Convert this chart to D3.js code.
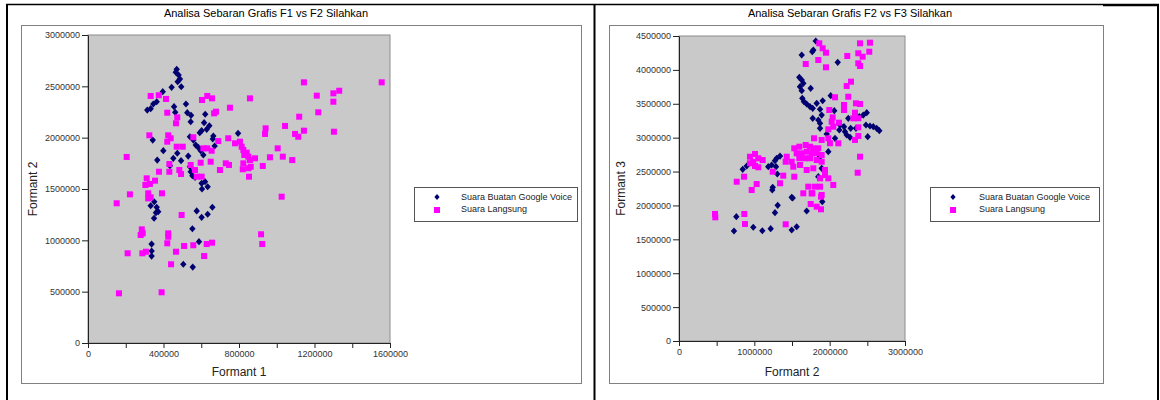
<!DOCTYPE html>
<html>
<head>
<meta charset="utf-8">
<script src="https://cdn.jsdelivr.net/npm/d3@7"></script>
<style>
  body { margin: 0; background: #fff; }
  text { font-family: "Liberation Sans", Arial, sans-serif; }
</style>
</head>
<body>
<div id="chart"></div>
<script>
// legend / series names
const seriesNames = ["Suara Buatan Google Voice", "Suara Langsung"];

// F1 vs F2 : Google voice
const googleF1F2 = [
  [470000,2666000],[465000,2637000],[480000,2610000],[487000,2571000],[475000,2545000],
  [494000,2496000],[443000,2490000],[396000,2448000],[364000,2350000],[346000,2328000],
  [332000,2282000],[314000,2269000],[456000,2302000],[462000,2247000],[519000,2328000],
  [526000,2243000],[546000,2218000],[544000,2155000],[621000,2228000],[615000,2146000],
  [643000,2116000],[629000,2081000],[602000,2068000],[592000,2048000],[343000,1977000],
  [540000,2009000],[558000,1977000],[571000,1928000],[584000,1906000],[597000,1873000],
  [611000,1831000],[661000,1987000],[671000,1919000],[664000,2016000],[795000,2042000],
  [399000,1873000],[473000,1848000],[452000,1799000],[367000,1782000],[493000,1776000],
  [531000,1821000],[434000,1727000],[540000,1717000],[544000,1668000],[553000,1630000],
  [567000,1614000],[602000,1555000],[620000,1571000],[634000,1522000],[604000,1500000],
  [351000,1376000],[332000,1337000],[364000,1322000],[360000,1269000],[350000,1215000],
  [372000,1279000],[576000,1286000],[602000,1224000],[634000,1254000],[659000,1322000],
  [553000,1113000],[588000,987000],[337000,964000],[337000,896000],[337000,847000],
  [505000,767000],[555000,740000]
];

// F1 vs F2 : direct voice
const langsungF1F2 = [
  [205000,1812000],[222000,1448000],[332000,2406000],[375000,2413000],[413000,2377000],
  [420000,2243000],[473000,2198000],[466000,2140000],[325000,2023000],[425000,2023000],
  [420000,1961000],[438000,1994000],[470000,1912000],[502000,1912000],[558000,2004000],
  [604000,2367000],[632000,2406000],[657000,2383000],[678000,2253000],[668000,2237000],
  [752000,2292000],[858000,2383000],[611000,1896000],[632000,1896000],[655000,1873000],
  [650000,1766000],[597000,1756000],[544000,1734000],[567000,1685000],[576000,1620000],
  [602000,1620000],[484000,1685000],[493000,1646000],[431000,1743000],[431000,1668000],
  [376000,1668000],[311000,1604000],[304000,1539000],[328000,1549000],[355000,1581000],
  [392000,1458000],[319000,1458000],[690000,1967000],[743000,1994000],[747000,1734000],
  [730000,1750000],[699000,1685000],[779000,1945000],[805000,1961000],[814000,1912000],
  [823000,1880000],[841000,1854000],[828000,1831000],[849000,1815000],[858000,1782000],
  [823000,1750000],[849000,1702000],[820000,1692000],[885000,1799000],[862000,1717000],
  [853000,1620000],[926000,1724000],[941000,2091000],[938000,2036000],[964000,1809000],
  [1005000,1896000],[1032000,1815000],[1082000,1782000],[1044000,2114000],[1097000,2036000],
  [1114000,2009000],[1144000,2068000],[1119000,2204000],[1144000,2539000],[1212000,2409000],
  [1220000,2247000],[1300000,2432000],[1300000,2350000],[1331000,2457000],[1303000,2058000],
  [1556000,2539000],[1026000,1425000],[152000,1361000],[319000,1409000],[332000,1419000],
  [496000,1247000],[285000,1107000],[279000,1052000],[290000,1068000],[210000,874000],
  [288000,874000],[307000,889000],[425000,1068000],[425000,1035000],[420000,971000],
  [466000,889000],[509000,945000],[558000,952000],[629000,964000],[657000,977000],
  [615000,847000],[440000,767000],[164000,484000],[390000,494000],[917000,1059000],
  [923000,964000]
];

// F2 vs F3 : Google voice
const googleF2F3 = [
  [1815000,4426000],[1783000,4293000],[1769000,4268000],[1629000,4220000],[2107000,4112000],
  [1597000,3891000],[1629000,3851000],[1650000,3802000],[1606000,3752000],[1748000,3728000],
  [1629000,3693000],[1637000,3581000],[1659000,3531000],[1695000,3497000],[1739000,3457000],
  [1775000,3433000],[1828000,3507000],[1907000,3545000],[2014000,3619000],[1872000,3419000],
  [1894000,3334000],[1775000,3286000],[1849000,3261000],[1872000,3212000],[1872000,3138000],
  [2061000,3398000],[2137000,3187000],[2128000,3113000],[2190000,3162000],[2247000,3286000],
  [2279000,3138000],[2203000,3088000],[2226000,3039000],[2270000,3005000],[2071000,2991000],
  [1961000,3054000],[2446000,3334000],[2492000,3368000],[2482000,3187000],[2535000,3172000],
  [2579000,3162000],[2624000,3138000],[2659000,3103000],[2505000,3014000],[2349000,3138000],
  [2393000,3309000],[1982000,2793000],[1872000,2719000],[1341000,2729000],[1297000,2696000],
  [1274000,2660000],[1230000,2597000],[1288000,2572000],[1305000,2464000],[1185000,2572000],
  [846000,2533000],[899000,2582000],[1244000,2268000],[1496000,2120000],[1849000,2424000],
  [1894000,2548000],[1238000,2228000],[1509000,2110000],[1310000,2002000],[1274000,1893000],
  [1695000,1918000],[1902000,2055000],[761000,1834000],[730000,1623000],[986000,1678000],
  [1106000,1627000],[1217000,1657000],[1496000,1638000],[1562000,1686000]
];

// F2 vs F3 : direct voice
const langsungF2F3 = [
  [1862000,4392000],[1907000,4319000],[1951000,4254000],[1849000,4146000],[1951000,4038000],
  [1682000,4087000],[2234000,4205000],[2403000,4392000],[2535000,4401000],[2380000,4245000],
  [2526000,4268000],[2438000,4195000],[2380000,4097000],[2403000,4057000],[2283000,3826000],
  [2226000,3762000],[2247000,3604000],[2071000,3596000],[2190000,3482000],[2190000,3408000],
  [2349000,3507000],[2403000,3497000],[2336000,3368000],[2380000,3286000],[2314000,3286000],
  [1995000,3408000],[2040000,3300000],[2027000,3236000],[2124000,3221000],[2048000,3162000],
  [1982000,3123000],[2380000,3153000],[2380000,3025000],[2336000,2966000],[1982000,2991000],
  [1894000,2966000],[2115000,2917000],[2004000,2917000],[1792000,2991000],[2403000,2719000],
  [2372000,2483000],[1530000,2843000],[1597000,2867000],[1682000,2892000],[1739000,2867000],
  [1783000,2843000],[1849000,2843000],[1562000,2769000],[1629000,2769000],[1695000,2793000],
  [1761000,2769000],[1828000,2769000],[1894000,2744000],[1597000,2696000],[1673000,2696000],
  [1739000,2696000],[1828000,2670000],[1894000,2645000],[1430000,2719000],[1416000,2645000],
  [1496000,2645000],[1517000,2572000],[1606000,2597000],[1695000,2523000],[1783000,2548000],
  [1938000,2523000],[1938000,2449000],[1982000,2400000],[2048000,2302000],[1872000,2400000],
  [1805000,2277000],[1872000,2277000],[1716000,2277000],[1650000,2179000],[1761000,2179000],
  [1894000,2154000],[1530000,2424000],[1384000,2439000],[1341000,2327000],[1244000,2498000],
  [942000,2719000],[1009000,2759000],[1053000,2696000],[986000,2645000],[942000,2622000],
  [1009000,2582000],[1053000,2563000],[1111000,2670000],[863000,2424000],[766000,2350000],
  [1031000,2316000],[965000,2228000],[1770000,2179000],[1748000,2021000],[1828000,1982000],
  [1885000,2129000],[1885000,1943000],[478000,1874000],[482000,1825000],[867000,1874000],
  [876000,1726000],[1416000,1722000]
];

// tick values
const leftXTicks = d3.range(0, 1600001, 200000);
const leftYTicks = d3.range(0, 3000001, 500000);
const rightXTicks = d3.range(0, 3000001, 500000);
const rightYTicks = d3.range(0, 4500001, 500000);

const W = 1160, H = 400;
const svg = d3.select("#chart").append("svg")
    .attr("width", W)
    .attr("height", H);

// table borders
const tbl = svg.append("g").attr("stroke", "#000").attr("fill", "none");
tbl.append("line").attr("x1", 6).attr("x2", 1103).attr("y1", 4.5).attr("y2", 4.5).attr("stroke-width", 1.5);
tbl.append("line").attr("x1", 1103).attr("x2", 1159).attr("y1", 5).attr("y2", 5).attr("stroke-width", 2.5);
tbl.append("line").attr("x1", 7).attr("x2", 7).attr("y1", 4).attr("y2", 400).attr("stroke-width", 2);
tbl.append("line").attr("x1", 594.5).attr("x2", 594.5).attr("y1", 4).attr("y2", 400).attr("stroke-width", 2);
tbl.append("line").attr("x1", 1158).attr("x2", 1158).attr("y1", 4).attr("y2", 400).attr("stroke-width", 2);

function drawChart(cfg) {
  const g = svg.append("g");

  // chart area frame
  g.append("rect")
    .attr("x", cfg.frame[0] + 0.5).attr("y", cfg.frame[1] + 0.5)
    .attr("width", cfg.frame[2] - cfg.frame[0]).attr("height", cfg.frame[3] - cfg.frame[1])
    .attr("fill", "#fff").attr("stroke", "#808080");

  // title
  g.append("text")
    .attr("x", cfg.titleX).attr("y", 17)
    .attr("text-anchor", "middle")
    .attr("font-size", 11)
    .attr("fill", "#000")
    .text(cfg.title);

  const x = d3.scaleLinear().domain(cfg.xDomain).range(cfg.xRange);
  const y = d3.scaleLinear().domain(cfg.yDomain).range(cfg.yRange);

  // plot area
  g.append("rect")
    .attr("x", cfg.xRange[0]).attr("y", cfg.yRange[1])
    .attr("width", cfg.xRange[1] - cfg.xRange[0])
    .attr("height", cfg.yRange[0] - cfg.yRange[1])
    .attr("fill", "#c9c9c9").attr("stroke", "#8c8c8c");

  // axes
  const xAxis = g.append("g")
    .attr("transform", `translate(0, ${cfg.yRange[0]})`)
    .call(d3.axisBottom(x).tickValues(cfg.xTicks).tickSizeInner(5).tickSizeOuter(0).tickPadding(3)
      .tickFormat(d => (d % cfg.xLabelStep === 0) ? d3.format("d")(d) : ""));
  const yAxis = g.append("g")
    .attr("transform", `translate(${cfg.xRange[0]}, 0)`)
    .call(d3.axisLeft(y).tickValues(cfg.yTicks).tickSizeInner(6).tickSizeOuter(0).tickPadding(2)
      .tickFormat(d3.format("d")));
  [xAxis, yAxis].forEach(a => {
    a.select(".domain").attr("stroke", "#222");
    a.selectAll(".tick line").attr("stroke", "#222");
    a.selectAll(".tick text").attr("fill", "#333").attr("font-size", 9)
      .attr("font-family", "'Liberation Sans', Arial, sans-serif");
  });

  // axis titles
  g.append("text")
    .attr("x", (cfg.xRange[0] + cfg.xRange[1]) / 2).attr("y", 376)
    .attr("text-anchor", "middle").attr("font-size", 12).attr("fill", "#222")
    .text(cfg.xTitle);
  g.append("text")
    .attr("transform", `translate(${cfg.yTitleX}, ${(cfg.yRange[0] + cfg.yRange[1]) / 2}) rotate(-90)`)
    .attr("text-anchor", "middle").attr("font-size", 12).attr("fill", "#222")
    .text(cfg.yTitle);

  // google voice series: navy diamonds
  g.append("g").selectAll("path")
    .data(cfg.google)
    .join("path")
    .attr("transform", d => `translate(${x(d[0])}, ${y(d[1])})`)
    .attr("d", "M0,-3.6L3.2,0L0,3.6L-3.2,0Z")
    .attr("fill", "#000070");

  // direct voice series: magenta squares
  g.append("g").selectAll("rect")
    .data(cfg.langsung)
    .join("rect")
    .attr("x", d => x(d[0]) - 3)
    .attr("y", d => y(d[1]) - 3)
    .attr("width", 6).attr("height", 6)
    .attr("fill", "#ff00ff");

  // legend
  const lg = g.append("g");
  lg.append("rect")
    .attr("x", cfg.legend[0] + 0.5).attr("y", 187.5)
    .attr("width", cfg.legend[1] - cfg.legend[0]).attr("height", 34)
    .attr("fill", "#fff").attr("stroke", "#555");
  const mx = cfg.legend[0] + 23;
  lg.append("path")
    .attr("transform", `translate(${mx}, 197)`)
    .attr("d", "M0,-3L2.6,0L0,3L-2.6,0Z")
    .attr("fill", "#000070");
  lg.append("rect")
    .attr("x", mx - 3).attr("y", 207).attr("width", 6).attr("height", 6)
    .attr("fill", "#ff00ff");
  lg.selectAll("text.lbl")
    .data(seriesNames)
    .join("text")
    .attr("class", "lbl")
    .attr("x", cfg.legend[0] + cfg.legendTextDx)
    .attr("y", (d, i) => 200 + i * 12)
    .attr("font-size", 9)
    .attr("fill", "#222")
    .text(d => d);
}

drawChart({
  frame: [21, 25, 581, 383],
  title: "Analisa Sebaran Grafis F1 vs F2 Silahkan",
  titleX: 266,
  xDomain: [0, 1600000], xRange: [88, 390],
  yDomain: [0, 3000000], yRange: [343, 35],
  xTicks: leftXTicks, xLabelStep: 400000, yTicks: leftYTicks,
  xTitle: "Formant 1", yTitle: "Formant 2", yTitleX: 37,
  google: googleF1F2, langsung: langsungF1F2,
  legend: [414, 577], legendTextDx: 47
});

drawChart({
  frame: [609, 25, 1103, 383],
  title: "Analisa Sebaran Grafis F2 vs F3 Silahkan",
  titleX: 850,
  xDomain: [0, 3000000], xRange: [679, 905],
  yDomain: [0, 4500000], yRange: [341, 36],
  xTicks: rightXTicks, xLabelStep: 1000000, yTicks: rightYTicks,
  xTitle: "Formant 2", yTitle: "Formant 3", yTitleX: 625,
  google: googleF2F3, langsung: langsungF2F3,
  legend: [930, 1099], legendTextDx: 49
});
</script>
</body>
</html>
